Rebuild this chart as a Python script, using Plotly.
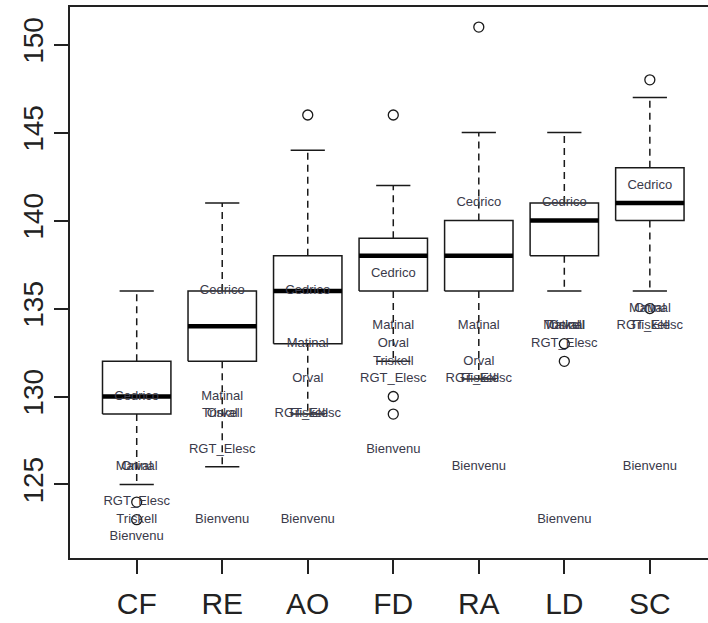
import plotly.graph_objects as go
import numpy as np

# ---------------- data ----------------
locations = ["CF", "RE", "AO", "FD", "RA", "LD", "SC"]
whisker_low = [125, 126, 129, 132, 131, 136, 136]
q1 = [129, 132, 133, 136, 136, 138, 140]
median = [130, 134, 136, 138, 138, 140, 141]
q3 = [132, 136, 138, 139, 140, 141, 143]
whisker_high = [136, 141, 144, 142, 145, 145, 147]
outliers = [[124, 123], [], [146], [146, 130, 129], [151], [133, 132], [148, 135]]

varieties = ["Cedrico", "Matinal", "Orval", "Triskell", "RGT_Elesc", "Bienvenu"]
cedrico = [130, 136, 136, 137, 141, 141, 142]
matinal = [126, 130, 133, 134, 134, 134, 135]
orval = [126, 129, 131, 133, 132, 134, 135]
triskell = [123, 129, 129, 132, 131, 134, 134]
rgt_elesc = [124, 127, 129, 131, 131, 133, 134]
bienvenu = [122, 123, 123, 127, 126, 123, 126]
variety_values = [cedrico, matinal, orval, triskell, rgt_elesc, bienvenu]

y_ticks = [125, 130, 135, 140, 145, 150]

# ---------------- geometry helpers ----------------
pos = np.arange(1, len(locations) + 1)
half_box = 0.4
half_cap = 0.2

box_x, box_y = [], []
med_x, med_y = [], []
wh_x, wh_y = [], []
cap_x, cap_y = [], []
for i, p in enumerate(pos):
    box_x += [p - half_box, p + half_box, p + half_box, p - half_box, p - half_box, None]
    box_y += [q1[i], q1[i], q3[i], q3[i], q1[i], None]
    med_x += [p - half_box, p + half_box, None]
    med_y += [median[i], median[i], None]
    wh_x += [p, p, None, p, p, None]
    wh_y += [q3[i], whisker_high[i], None, q1[i], whisker_low[i], None]
    cap_x += [p - half_cap, p + half_cap, None, p - half_cap, p + half_cap, None]
    cap_y += [whisker_high[i], whisker_high[i], None, whisker_low[i], whisker_low[i], None]

out_x, out_y = [], []
for i, p in enumerate(pos):
    for v in outliers[i]:
        out_x.append(p)
        out_y.append(v)

fig = go.Figure()
line_col = "#1a1a1a"
fig.add_trace(go.Scatter(x=wh_x, y=wh_y, mode="lines",
                         line=dict(color=line_col, width=1.5, dash="7px,5px"), hoverinfo="skip"))
fig.add_trace(go.Scatter(x=cap_x, y=cap_y, mode="lines",
                         line=dict(color=line_col, width=1.5), hoverinfo="skip"))
fig.add_trace(go.Scatter(x=box_x, y=box_y, mode="lines",
                         line=dict(color=line_col, width=1.5), hoverinfo="skip"))
fig.add_trace(go.Scatter(x=med_x, y=med_y, mode="lines",
                         line=dict(color="#000000", width=4.5), hoverinfo="skip"))
fig.add_trace(go.Scatter(x=out_x, y=out_y, mode="markers",
                         marker=dict(symbol="circle-open", size=10, color=line_col,
                                     line=dict(width=1.3)), hoverinfo="skip"))

for name, vals in zip(varieties, variety_values):
    fig.add_trace(go.Scatter(x=pos, y=vals, mode="text", text=[name] * len(pos),
                             textposition="middle center",
                             textfont=dict(family="Liberation Sans, Arial",
                                           size=13, color="#3a3a4a"),
                             hoverinfo="skip"))

fig.update_layout(
    width=708, height=623,
    margin=dict(l=70, r=0, t=7, b=65),
    paper_bgcolor="white", plot_bgcolor="white",
    showlegend=False,
    font=dict(family="Liberation Sans, Arial", color="#222222"),
)
fig.update_xaxes(
    range=[0.22, 7.68], tickmode="array", tickvals=list(pos), ticktext=locations,
    showgrid=False, zeroline=False, showline=True, mirror=True,
    linecolor="#222222", linewidth=1.5, automargin=False,
    ticks="outside", ticklen=14, tickwidth=1.5, tickcolor="#222222",
    tickfont=dict(size=30, color="#222222"), ticklabelstandoff=4,
)
fig.update_yaxes(
    range=[120.82, 152.14], tickmode="array", tickvals=y_ticks,
    ticktext=[str(t) for t in y_ticks],
    showgrid=False, zeroline=False, showline=True, mirror=False,
    linecolor="#222222", linewidth=1.5, automargin=False,
    ticks="outside", ticklen=14, tickwidth=1.5, tickcolor="#222222",
    tickfont=dict(size=28, color="#222222"), tickangle=-90, ticklabelstandoff=0,
)

fig.write_html("out.html")
